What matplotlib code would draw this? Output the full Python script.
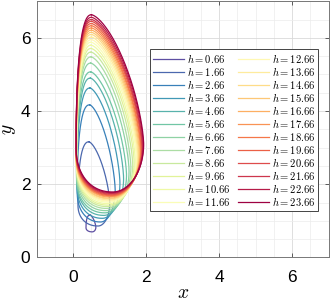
import numpy as np
import matplotlib.pyplot as plt
from matplotlib.ticker import MultipleLocator

plt.rcParams['mathtext.fontset'] = 'cm'
plt.rcParams['font.family'] = ['Liberation Sans', 'DejaVu Sans']

# energy levels shown in the legend
h_vals = [0.66 + i for i in range(24)]

# extreme points of each closed orbit
x_left = [0.35, 0.13, 0.11, 0.10, 0.10, 0.09, 0.09, 0.09, 0.09, 0.09, 0.09, 0.09,
          0.08, 0.08, 0.08, 0.08, 0.08, 0.08, 0.08, 0.08, 0.08, 0.08, 0.08, 0.08]
x_top = [0.46, 0.43, 0.45, 0.46, 0.47, 0.48, 0.48, 0.49, 0.49, 0.49, 0.49, 0.49,
         0.50, 0.50, 0.50, 0.50, 0.50, 0.50, 0.50, 0.50, 0.50, 0.50, 0.50, 0.50]
y_top = [1.16, 3.16, 4.17, 4.63, 4.90, 5.07, 5.31, 5.48, 5.61, 5.71, 5.80, 5.88,
         5.95, 6.02, 6.09, 6.15, 6.21, 6.27, 6.33, 6.39, 6.45, 6.50, 6.56, 6.63]
x_right = [0.62, 1.00, 1.15, 1.28, 1.38, 1.46, 1.53, 1.58, 1.63, 1.67, 1.70, 1.73,
           1.75, 1.77, 1.79, 1.81, 1.83, 1.85, 1.86, 1.88, 1.89, 1.90, 1.92, 1.93]
x_bot = [0.52, 0.68, 0.75, 0.80, 0.84, 0.87, 0.90, 0.92, 0.94, 0.96, 0.97, 0.98,
         0.99, 1.00, 1.01, 1.02, 1.03, 1.04, 1.05, 1.05, 1.06, 1.06, 1.07, 1.08]
y_bot = [0.70, 0.86, 0.97, 1.07, 1.15, 1.22, 1.28, 1.34, 1.39, 1.43, 1.47, 1.51,
         1.54, 1.57, 1.60, 1.62, 1.65, 1.67, 1.69, 1.71, 1.73, 1.75, 1.77, 1.79]


def orbit(xl, xt, yt, xr, xb, yb, n=120):
    # closed teardrop through the four extreme points
    yr = yb + 0.27 * (yt - yb)
    yl = yb + 0.25 * (yt - yb)
    t = np.linspace(0, np.pi / 2, n)
    s, c = np.sin(t), np.cos(t)
    x1 = xt + (xr - xt) * s**1.33
    y1 = yr + (yt - yr) * c**1.33
    x2 = xb + (xr - xb) * c
    y2 = yr - (yr - yb) * s
    x3 = xb - (xb - xl) * s**0.91
    y3 = yl - (yl - yb) * c**0.91
    x4 = xt - (xt - xl) * c**0.83
    y4 = yl + (yt - yl) * s**0.83
    return np.concatenate([x1, x2, x3, x4]), np.concatenate([y1, y2, y3, y4])


colors = plt.cm.Spectral_r(np.linspace(0, 1, len(h_vals)))

fig = plt.figure(figsize=(3.31, 3.06), dpi=100)
ax = fig.add_axes([0.111, 0.1585, 0.882, 0.8375])

for i in range(len(h_vals)):
    xs, ys = orbit(x_left[i], x_top[i], y_top[i], x_right[i], x_bot[i], y_bot[i])
    ax.plot(xs, ys, color=colors[i], lw=0.9, label=r'$h = %.2f$' % h_vals[i])

ax.set_xlim(-1, 7)
ax.set_ylim(0, 7)
ax.set_xticks([0, 2, 4, 6])
ax.set_yticks([0, 2, 4, 6])
ax.xaxis.set_minor_locator(MultipleLocator(0.5))
ax.yaxis.set_minor_locator(MultipleLocator(0.5))
ax.grid(which='major', color='#d9d9d9', lw=0.6)
ax.grid(which='minor', color='#ececec', lw=0.5)
ax.set_axisbelow(True)
ax.tick_params(which='major', direction='in', length=3, width=0.6, color='#444444',
               labelsize=12.5, top=True, right=True)
ax.tick_params(axis='x', pad=9)
ax.tick_params(axis='y', pad=4.5)
ax.tick_params(which='minor', length=0)
for sp in ax.spines.values():
    sp.set_color('#777777')
    sp.set_linewidth(0.7)

ax.set_xlabel(r'$x$', fontsize=14, labelpad=0)
ax.set_ylabel(r'$y$', fontsize=14, labelpad=2)

leg = ax.legend(ncol=2, fontsize=7.6, loc='upper left', bbox_to_anchor=(0.388, 0.814),
                handlelength=2.9, handletextpad=0.3, labelspacing=0.0, columnspacing=0.7,
                borderpad=0.3, borderaxespad=0, fancybox=False, framealpha=1,
                edgecolor='#444444')
leg.get_frame().set_linewidth(0.7)

fig.savefig('out.png', dpi=100)
